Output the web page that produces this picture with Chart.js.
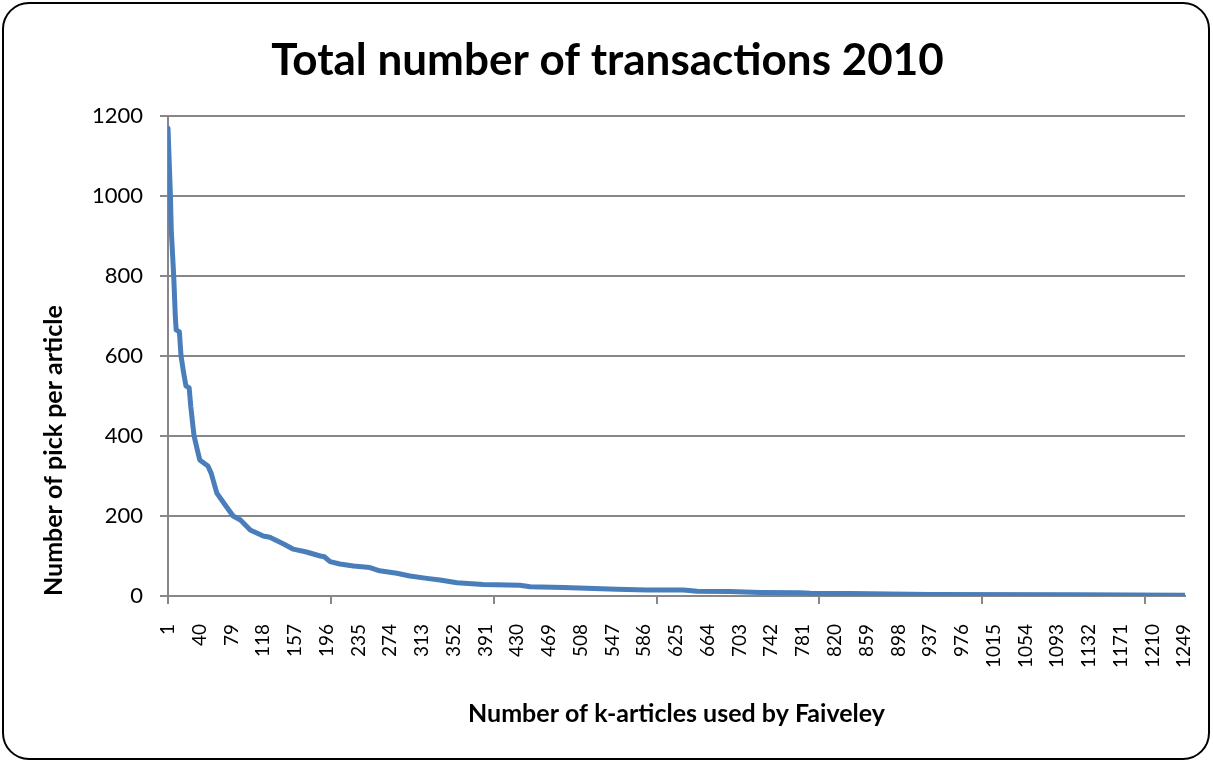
<!DOCTYPE html>
<html lang="en">
<head>
    <meta charset="UTF-8">
    <title>Total number of transactions 2010</title>
    <script src="https://cdn.jsdelivr.net/npm/chart.js"></script>
    <style>
        body {
            margin: 0;
            background: #ffffff;
        }
        .chart-box {
            width: 1213px;
            height: 762px;
        }
    </style>
</head>
<body>
    <div class="chart-box">
        <canvas id="picksChart" width="1213" height="762"></canvas>
    </div>

    <script>
        // Article rank (x) and number of picks (y), sorted from most to least picked
        const articleNo = [1, 4, 5, 8, 10, 11, 15, 17, 20, 23, 27, 29, 33, 37, 40, 50, 54, 61, 71, 81,
            90, 102, 118, 126, 143, 155, 171, 188, 193, 200, 212, 229, 249, 261, 282, 298, 319, 335, 356, 388,
            433, 446, 487, 552, 589, 634, 651, 691, 728, 777, 790, 839, 937, 1118, 1250];
        const picks = [1169, 1000, 915, 800, 698, 665, 660, 600, 560, 525, 520, 473, 400, 365, 340, 325, 307, 257, 228, 200,
            190, 165, 150, 147, 130, 117, 110, 100, 98, 86, 80, 75, 71, 63, 57, 50, 44, 40, 33, 29,
            27, 23, 21, 17, 15, 15, 12, 11, 9, 8, 7, 6, 4, 3, 2];

        // Category labels shown under the axis (every 39th article)
        const xTickLabels = [1, 40, 79, 118, 157, 196, 235, 274, 313, 352, 391, 430, 469, 508, 547, 586, 625,
            664, 703, 742, 781, 820, 859, 898, 937, 976, 1015, 1054, 1093, 1132, 1171, 1210, 1249];
        // Small tick marks on the x axis (every 200 articles)
        const xTickMarks = [1, 201, 401, 601, 801, 1001, 1201];
        const xMax = 1250;

        const gridGray = "#878787";

        // Rounded frame around the whole chart + x-axis tick marks
        const framePlugin = {
            id: "frame",
            beforeDraw(chart) {
                const ctx = chart.ctx;
                ctx.save();
                ctx.fillStyle = "#ffffff";
                ctx.fillRect(0, 0, chart.width, chart.height);
                ctx.restore();
            },
            afterDraw(chart) {
                const ctx = chart.ctx;
                const x = chart.scales.x;
                ctx.save();
                ctx.strokeStyle = gridGray;
                ctx.lineWidth = 2;
                ctx.beginPath();
                xTickMarks.forEach(v => {
                    const px = Math.round(x.getPixelForValue(v));
                    ctx.moveTo(px, x.top);
                    ctx.lineTo(px, x.top + 8);
                });
                ctx.stroke();

                ctx.strokeStyle = "#000000";
                ctx.lineWidth = 2;
                ctx.beginPath();
                ctx.roundRect(3, 3, 1206, 756, 26);
                ctx.stroke();
                ctx.restore();
            }
        };

        new Chart(document.getElementById("picksChart"), {
            type: "line",
            data: {
                datasets: [{
                    label: "Number of pick per article",
                    data: articleNo.map((n, i) => ({ x: n, y: picks[i] })),
                    borderColor: "#4a7ebb",
                    borderWidth: 5,
                    borderJoinStyle: "round",
                    borderCapStyle: "round",
                    pointRadius: 0,
                    tension: 0,
                    fill: false
                }]
            },
            options: {
                responsive: false,
                animation: false,
                layout: {
                    padding: { left: 30, right: 28, top: 0, bottom: 0 }
                },
                plugins: {
                    legend: { display: false },
                    tooltip: { enabled: false },
                    title: {
                        display: true,
                        text: "Total number of transactions 2010",
                        color: "#000000",
                        font: { family: "Lato", size: 44, weight: "bold" },
                        padding: { top: 34, bottom: 29 }
                    }
                },
                scales: {
                    x: {
                        type: "linear",
                        min: 1,
                        max: xMax,
                        afterBuildTicks: scale => {
                            scale.ticks = xTickLabels.map(v => ({ value: v }));
                        },
                        afterFit: scale => {
                            scale.height = 166;
                            scale.paddingLeft = 0;
                            scale.paddingRight = 0;
                        },
                        grid: { display: false },
                        border: { display: true, color: gridGray, width: 2 },
                        ticks: {
                            autoSkip: false,
                            minRotation: 90,
                            maxRotation: 90,
                            padding: 20,
                            color: "#000000",
                            font: { family: "Lato", size: 19 },
                            callback: v => String(v)
                        },
                        title: {
                            display: true,
                            text: "Number of k-articles used by Faiveley",
                            color: "#000000",
                            font: { family: "Lato", size: 25, weight: "bold" },
                            padding: { top: 0, bottom: 33 }
                        }
                    },
                    y: {
                        min: 0,
                        max: 1200,
                        afterFit: scale => {
                            scale.width = 138;
                        },
                        grid: {
                            color: gridGray,
                            lineWidth: 2,
                            drawTicks: true,
                            tickLength: 8
                        },
                        border: { display: true, color: gridGray, width: 2 },
                        ticks: {
                            stepSize: 200,
                            padding: 17,
                            color: "#000000",
                            font: { family: "Lato", size: 22 },
                            callback: v => String(v)
                        },
                        title: {
                            display: true,
                            text: "Number of pick per article",
                            align: "start",
                            color: "#000000",
                            font: { family: "Lato", size: 25, weight: "bold" },
                            padding: { top: 9, bottom: 0 }
                        }
                    }
                }
            },
            plugins: [framePlugin]
        });
    </script>
</body>
</html>
